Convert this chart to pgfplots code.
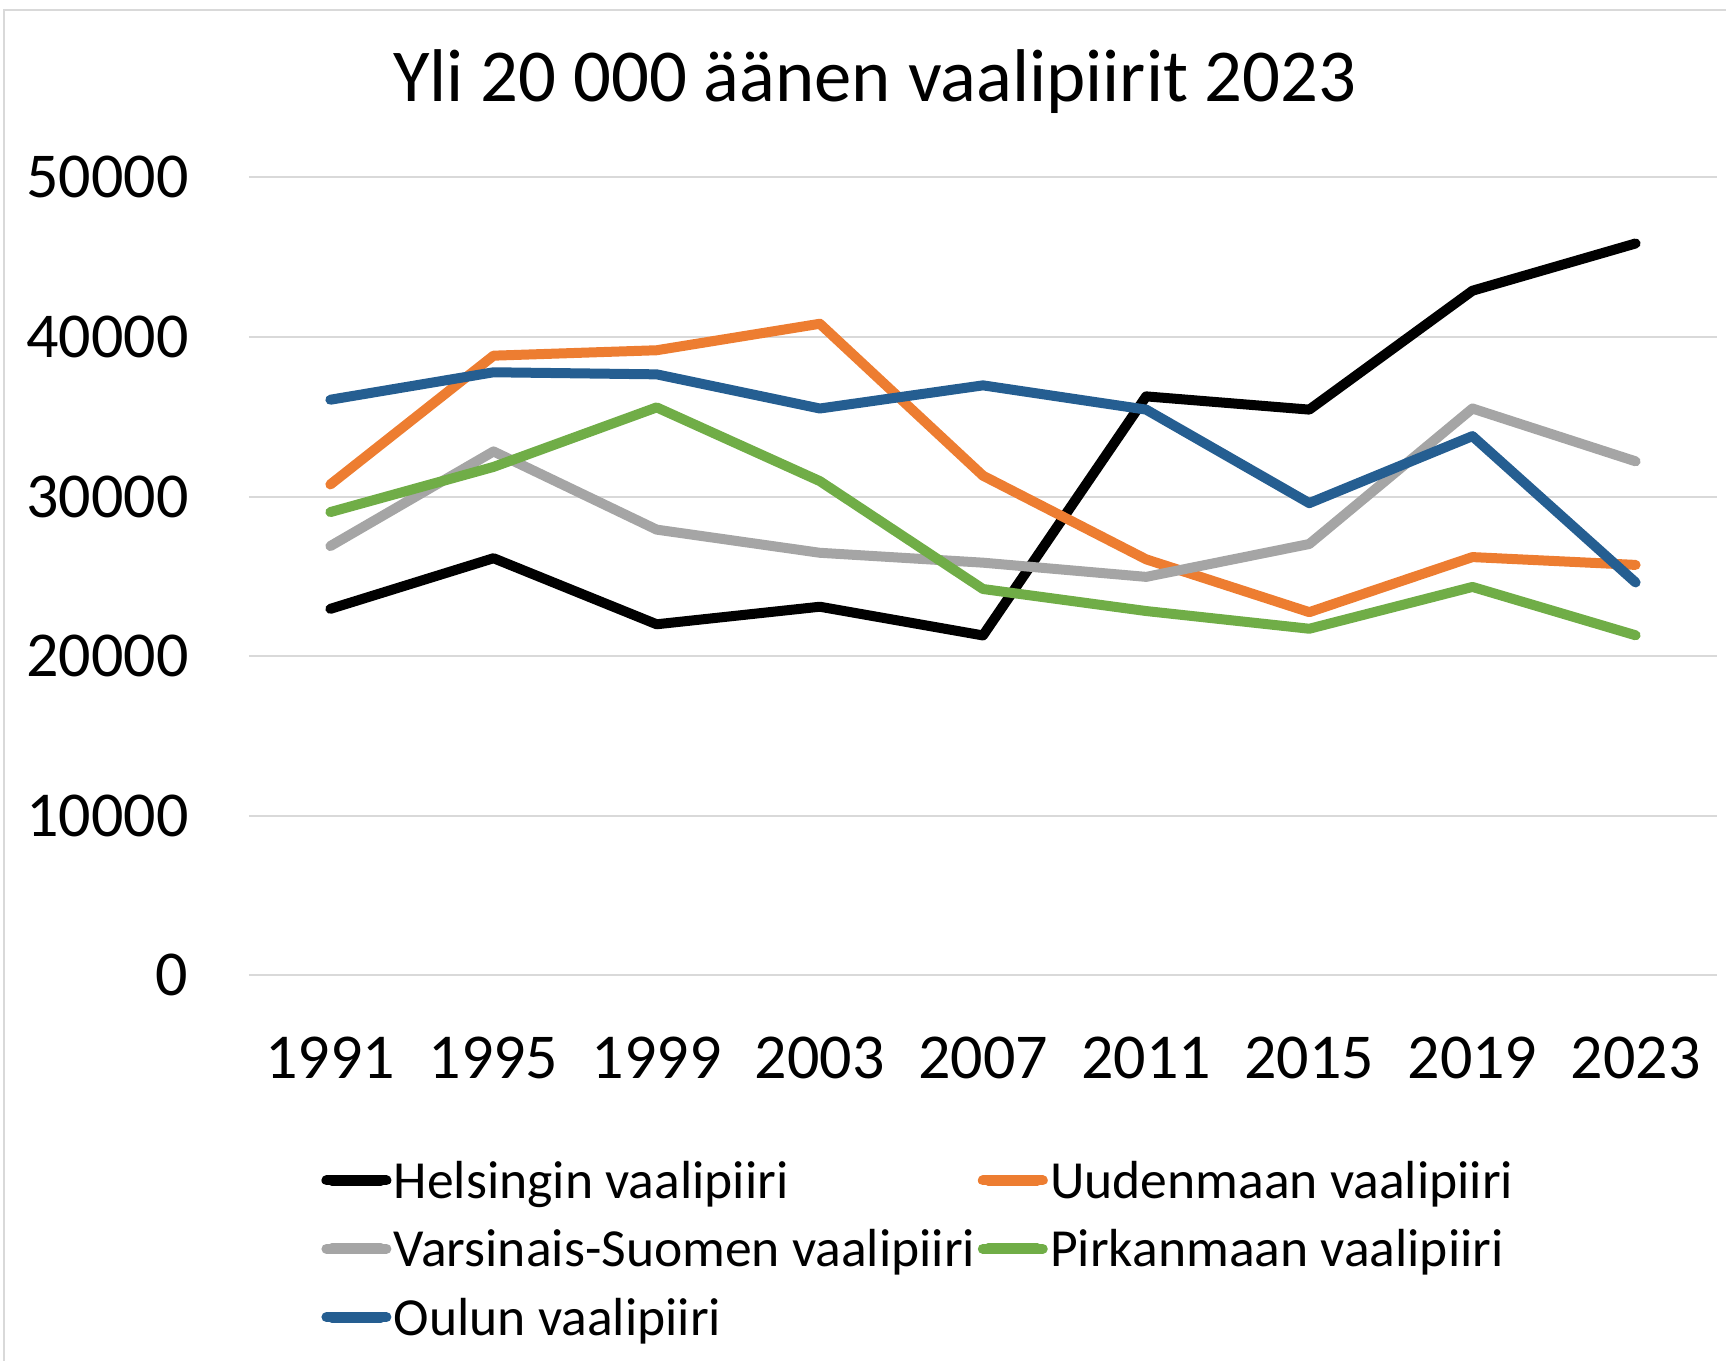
\documentclass[border=0pt]{standalone}
\usepackage{pgfplots}
\pgfplotsset{compat=1.18}
\usepackage{fontspec}
\setmainfont{Carlito}
\definecolor{cBlack}{HTML}{000000}
\definecolor{cOrange}{HTML}{ED7D31}
\definecolor{cGray}{HTML}{A5A5A5}
\definecolor{cGreen}{HTML}{70AD47}
\definecolor{cBlue}{HTML}{255E91}
\definecolor{cGrid}{HTML}{D9D9D9}
\begin{document}
\begin{tikzpicture}
\useasboundingbox (0,0) rectangle (863pt,680.5pt);
\draw[cGrid, line width=0.6pt] (2pt,-10pt) -- (2pt,675.5pt) -- (880pt,675.5pt);
\node[anchor=base, font=\fontsize{37.35pt}{41pt}\selectfont, inner sep=0pt] at (437.5pt,629.5pt) {Yli 20 000 äänen vaalipiirit 2023};
\begin{axis}[
  at={(124.4pt,192.8pt)}, anchor=south west,
  scale only axis, width=734.2pt, height=399pt,
  xmin=-0.5, xmax=8.5, ymin=0, ymax=50000,
  axis line style={draw=none},
  ymajorgrids, grid style={cGrid, line width=1pt},
  major tick length=0pt,
  xtick={0,...,8},
  xticklabels={1991,1995,1999,2003,2007,2011,2015,2019,2023},
  ytick={0,10000,...,50000},
  /pgf/number format/assume math mode=true,
  scaled y ticks=false,
  yticklabel={\pgfmathprintnumber[fixed,1000 sep={}]{\tick}},
  tick label style={font=\fontsize{32pt}{36pt}\selectfont, inner sep=0pt},
  yticklabel style={anchor=east, xshift=-30pt},
  xticklabel style={anchor=north, yshift=-30.4pt},
  legend columns=2,
  legend cell align=left,
  legend style={draw=none, fill=none, inner sep=0pt, at={(0.04918,-0.2213)}, anchor=north west,
    font=\fontsize{26.8pt}{30pt}\selectfont,
    nodes={inner xsep=1.2pt, inner ysep=0pt, text height=23pt, text depth=5pt},
    row sep=6.2pt},
  /tikz/every even column/.append style={column sep=0pt},
  legend image code/.code={\path (0pt,0pt) -- (30pt,0pt); \draw[#1, line width=5.5pt, line cap=round] (2.75pt,0pt) -- (27.25pt,0pt);},
  every axis plot/.append style={line width=5pt, line cap=round, line join=round, mark=none},
]
\addplot[cBlack] coordinates {(0,22966) (1,26140) (2,22000) (3,23100) (4,21300) (5,36280) (6,35450) (7,42900) (8,45860)};
\addlegendentry{Helsingin vaalipiiri}
\addplot[cOrange] coordinates {(0,30760) (1,38830) (2,39170) (3,40830) (4,31310) (5,26070) (6,22760) (7,26210) (8,25720)};
\addlegendentry{Uudenmaan vaalipiiri}
\addplot[cGray] coordinates {(0,26900) (1,32830) (2,27930) (3,26480) (4,25860) (5,24970) (6,27030) (7,35520) (8,32210)};
\addlegendentry{Varsinais-Suomen vaalipiiri}
\addplot[cGreen] coordinates {(0,29030) (1,31860) (2,35590) (3,30970) (4,24210) (5,22830) (6,21720) (7,24340) (8,21310)};
\addlegendentry{Pirkanmaan vaalipiiri}
\addplot[cBlue] coordinates {(0,36070) (1,37790) (2,37660) (3,35520) (4,36970) (5,35450) (6,29590) (7,33790) (8,24620)};
\addlegendentry{Oulun vaalipiiri}
\end{axis}
\end{tikzpicture}
\end{document}
